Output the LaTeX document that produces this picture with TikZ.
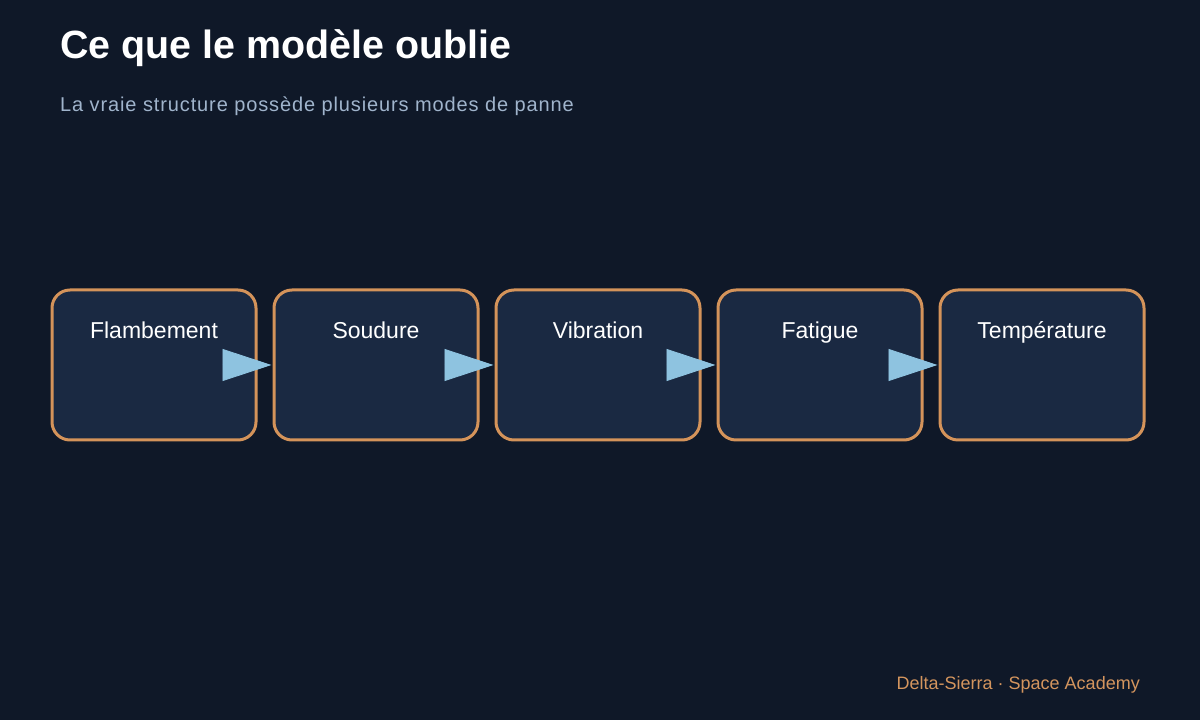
\documentclass[tikz,border=0pt]{standalone}
\usepackage{fontspec}
\setmainfont{Liberation Sans}
\usepackage{xcolor}
\usepackage{tikz}
\usetikzlibrary{arrows.meta}

\definecolor{bgnavy}{HTML}{0F1828}
\definecolor{boxnavy}{HTML}{1A2942}
\definecolor{boxedge}{HTML}{D4935A}
\definecolor{flowblue}{HTML}{8EC3E0}
\definecolor{subgrey}{HTML}{A0B4CC}
\definecolor{footorange}{HTML}{D4955E}

\tikzset{
  modebox/.style={draw=boxedge, fill=boxnavy, line width=3pt, rounded corners=18pt,
    minimum width=204pt, minimum height=150pt, inner sep=0pt},
  modetext/.style={anchor=base, inner sep=0pt, text=white, font=\fontsize{23}{27}\selectfont},
  flow/.style={draw=flowblue, fill=flowblue, line width=0.8pt,
    -{Triangle[length=49pt,width=32pt]}}
}

\begin{document}
\begin{tikzpicture}[x=1pt,y=1pt]
\fill[bgnavy] (0,0) rectangle (1200,720);
\useasboundingbox (0,0) rectangle (1200,720);

\node[anchor=base west, inner sep=0pt, text=white, font=\fontsize{39.4}{46}\selectfont\bfseries] (title) at (60,661) {Ce que le modèle oublie};
\node[anchor=base west, inner sep=0pt, text=subgrey, font=\fontsize{20}{24}\selectfont\addfontfeatures{LetterSpace=4.4}] (subtitle) at (60,608) {La vraie structure possède plusieurs modes de panne};

\node[modebox] (flamb) at (154,355) {};
\node[modebox] (soud) at (376,355) {};
\node[modebox] (vib) at (598,355) {};
\node[modebox] (fat) at (820,355) {};
\node[modebox] (temp) at (1042,355) {};

\node[modetext] (flambtxt) at ([yshift=-50pt]flamb.north) {Flambement};
\node[modetext] (soudtxt) at ([yshift=-50pt]soud.north) {Soudure};
\node[modetext] (vibtxt) at ([yshift=-50pt]vib.north) {Vibration};
\node[modetext] (fattxt) at ([yshift=-50pt]fat.north) {Fatigue};
\node[modetext] (temptxt) at ([yshift=-50pt]temp.north) {Température};

\draw[flow] (flamb.east) -- ([xshift=-1pt]soud.west);
\draw[flow] (soud.east) -- ([xshift=-1pt]vib.west);
\draw[flow] (vib.east) -- ([xshift=-1pt]fat.west);
\draw[flow] (fat.east) -- ([xshift=-1pt]temp.west);

\node[anchor=base east, inner sep=0pt, text=footorange, font=\fontsize{18}{22}\selectfont] (footer) at (1140,30) {Delta-Sierra · Space Academy};
\end{tikzpicture}
\end{document}
